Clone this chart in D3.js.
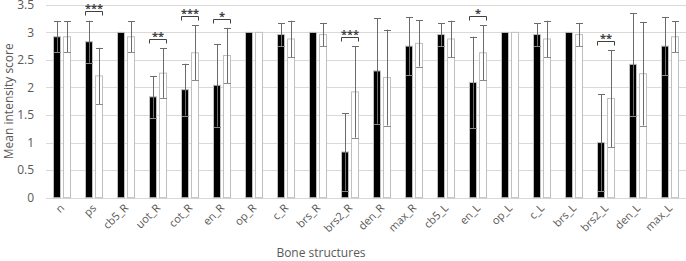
<!DOCTYPE html>
<html><head><meta charset="utf-8">
<script src="https://cdn.jsdelivr.net/npm/d3@7"></script>
<style>html,body{margin:0;padding:0;background:#fff;}svg{display:block;font-family:"Open Sans",sans-serif;}</style>
</head><body><svg id="c" width="686" height="261"></svg>
<script>
const categories = ["n","ps","cb5_R","uot_R","cot_R","en_R","op_R","c_R","brs_R","brs2_R","den_R","max_R","cb5_L","en_L","op_L","c_L","brs_L","brs2_L","den_L","max_L"];
const seriesA = [2.92,2.83,3.0,1.83,1.96,2.04,3.0,2.96,3.0,0.83,2.30,2.75,2.96,2.09,3.0,2.96,3.0,1.0,2.42,2.75];
const errA    = [0.28,0.38,0,0.38,0.47,0.75,0,0.21,0,0.70,0.96,0.53,0.21,0.83,0,0.21,0,0.88,0.93,0.53];
const seriesB = [2.92,2.21,2.92,2.26,2.63,2.58,3.0,2.88,2.96,1.92,2.18,2.80,2.88,2.63,3.0,2.88,2.96,1.80,2.25,2.92];
const errB    = [0.28,0.51,0.28,0.45,0.50,0.50,0,0.33,0.21,0.83,0.87,0.42,0.33,0.50,0,0.33,0.21,0.88,0.94,0.28];
const sigCats  = ["ps","uot_R","cot_R","en_R","brs2_R","en_L","brs2_L"];
const sigMarks = ["***","**","***","*","***","*","**"];
const yTicks = [0,0.5,1,1.5,2,2.5,3,3.5];
const yTitle = "Mean intensity score";
const xTitle = "Bone structures";

(function(){
const svg = d3.select("#c");
const pL = 46, pR = 686, pT = 4.8, pB = 197.7;
const x0 = d3.scaleBand().domain(categories).range([pL, pR]).padding(0);
const x1 = d3.scaleBand().domain(["A","B"]).range([7, 25]).paddingInner(0.2);
const y = d3.scaleLinear().domain([0, 3.5]).range([pB, pT]);
const textCol = "#595959";

svg.append("g").selectAll("line").data(yTicks.filter(d => d > 0)).join("line")
  .attr("x1", pL).attr("x2", pR).attr("y1", d => Math.round(y(d)) + 0.5).attr("y2", d => Math.round(y(d)) + 0.5)
  .attr("stroke", "#d9d9d9").attr("stroke-width", 1);

const yAxis = d3.axisLeft(y).tickValues(yTicks).tickSize(0).tickPadding(0).tickFormat(d3.format("~g"));
const gy = svg.append("g").attr("transform", `translate(${pL - 12},0)`).call(yAxis);
gy.select(".domain").remove();
gy.selectAll("text").attr("fill", textCol).attr("font-size", 12).attr("font-family", "Open Sans");

svg.append("line").attr("x1", pL).attr("x2", pR).attr("y1", Math.round(pB) + 0.5).attr("y2", Math.round(pB) + 0.5)
  .attr("stroke", "#d9d9d9").attr("stroke-width", 1);

const data = categories.map((c, i) => ({c, vals: [
  {k: "A", v: seriesA[i], e: errA[i]},
  {k: "B", v: seriesB[i], e: errB[i]}]}));

const groups = svg.append("g").selectAll("g").data(data).join("g")
  .attr("transform", d => `translate(${x0(d.c)},0)`);

groups.selectAll("rect").data(d => d.vals).join("rect")
  .attr("x", d => x1(d.k) + 0.5).attr("width", x1.bandwidth() - 1)
  .attr("y", d => y(d.v)).attr("height", d => y(0) - y(d.v))
  .attr("fill", d => d.k === "A" ? "#000" : "#fff")
  .attr("stroke", "#bfbfbf").attr("stroke-width", 1);

const eb = groups.selectAll("g.eb").data(d => d.vals.filter(v => v.e > 0)).join("g").attr("class", "eb");
const cx = d => Math.round(x1(d.k) + x1.bandwidth() / 2) + 0.5;
eb.append("line").attr("x1", cx).attr("x2", cx)
  .attr("y1", d => y(d.v + d.e)).attr("y2", d => y(d.v - d.e))
  .attr("stroke", "#6b6b6b").attr("stroke-width", 1);
eb.append("line").attr("x1", d => cx(d) - 3.5).attr("x2", d => cx(d) + 3.5)
  .attr("y1", d => Math.round(y(d.v + d.e)) + 0.5).attr("y2", d => Math.round(y(d.v + d.e)) + 0.5)
  .attr("stroke", "#6b6b6b").attr("stroke-width", 1);
eb.append("line").attr("x1", d => cx(d) - 3.5).attr("x2", d => cx(d) + 3.5)
  .attr("y1", d => Math.round(y(d.v - d.e)) + 0.5).attr("y2", d => Math.round(y(d.v - d.e)) + 0.5)
  .attr("stroke", "#8a8a8a").attr("stroke-width", 1);

sigCats.forEach((c, i) => {
  const idx = categories.indexOf(c);
  const topV = Math.max(seriesA[idx] + errA[idx], seriesB[idx] + errB[idx]) + 0.17;
  const bx0 = x0(c) + x1("A") + 0.5, bx1 = x0(c) + x1("B") + x1.bandwidth() - 0.5;
  const by = Math.round(y(topV)) + 0.5;
  svg.append("path").attr("d", `M${bx0},${by + 4}V${by}H${bx1}V${by + 4}`)
    .attr("fill", "none").attr("stroke", "#404040").attr("stroke-width", 1);
  svg.append("text").attr("x", (bx0 + bx1) / 2).attr("y", by + 0.5)
    .attr("text-anchor", "middle").attr("font-size", 11).attr("font-weight", "bold")
    .attr("fill", "#404040").text(sigMarks[i]);
});

const lx = d => x0(d) + x0.bandwidth() / 2 + 3;
const ly = pB + 11;
svg.append("g").selectAll("text").data(categories).join("text")
  .attr("x", lx).attr("y", ly)
  .attr("transform", d => `rotate(-45 ${lx(d)} ${ly})`)
  .attr("text-anchor", "end")
  .attr("font-size", 11).attr("fill", textCol).text(d => d);

svg.append("text").attr("transform", `translate(13,${(pT + pB) / 2}) rotate(-90)`)
  .attr("text-anchor", "middle").attr("font-size", 12).attr("fill", textCol).text(yTitle);
svg.append("text").attr("x", 321).attr("y", 257).attr("text-anchor", "middle")
  .attr("font-size", 12).attr("fill", textCol).text(xTitle);
})();
</script></body></html>
